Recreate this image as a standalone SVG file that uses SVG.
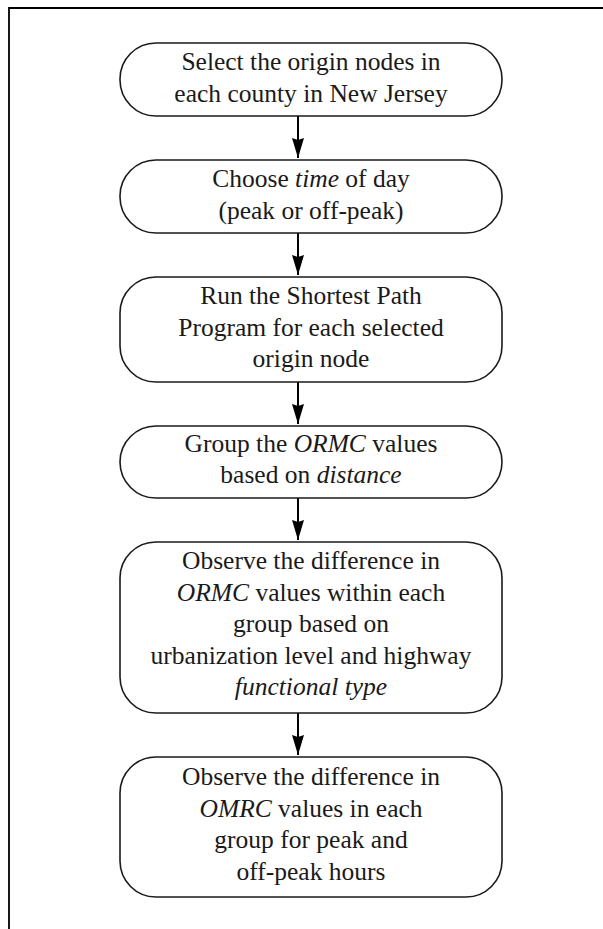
<svg xmlns="http://www.w3.org/2000/svg" width="603" height="929" viewBox="0 0 603 929">
<defs>
<style>
.node rect{fill:#fff;stroke:#1a1a1a;stroke-width:1.6}
.node text{font-family:"Liberation Serif","Times New Roman",serif;font-size:25.5px;fill:#1a1a1a;text-anchor:middle}
.it{font-style:italic}
.conn line{stroke:#000;stroke-width:2}
.frame{stroke:#000;stroke-width:1.8;fill:none}
</style>
<marker id="ah" markerWidth="20" markerHeight="12" refX="20" refY="6" orient="auto" markerUnits="userSpaceOnUse" viewBox="0 0 20 12">
<path d="M0,0 L20,6 L0,12 L2,6 Z" fill="#000"/>
</marker>
</defs>
<rect width="603" height="929" fill="#fff"/>
<path class="frame" d="M9,929 V8 H603"/>
<g class="conn">
<line x1="298" y1="116" x2="298" y2="158" marker-end="url(#ah)"/>
<line x1="298" y1="233" x2="298" y2="275" marker-end="url(#ah)"/>
<line x1="298" y1="382" x2="298" y2="424" marker-end="url(#ah)"/>
<line x1="298" y1="498" x2="298" y2="540" marker-end="url(#ah)"/>
<line x1="298" y1="713" x2="298" y2="755" marker-end="url(#ah)"/>
</g>
<g id="n1" class="node">
<rect x="120" y="43" width="382" height="73" rx="36" ry="36"/>
<text x="311" y="70">Select the origin nodes in</text>
<text x="311" y="102">each county in New Jersey</text>
</g>
<g id="n2" class="node">
<rect x="120" y="160" width="382" height="73" rx="36" ry="36"/>
<text x="311" y="187">Choose <tspan class="it">time</tspan> of day</text>
<text x="311" y="219">(peak or off-peak)</text>
</g>
<g id="n3" class="node">
<rect x="120" y="277" width="382" height="105" rx="36" ry="36"/>
<text x="311" y="304">Run the Shortest Path</text>
<text x="311" y="336">Program for each selected</text>
<text x="311" y="367">origin node</text>
</g>
<g id="n4" class="node">
<rect x="120" y="426" width="382" height="72" rx="36" ry="36"/>
<text x="311" y="452">Group the <tspan class="it">ORMC</tspan> values</text>
<text x="311" y="483">based on <tspan class="it">distance</tspan></text>
</g>
<g id="n5" class="node">
<rect x="120" y="542" width="382" height="171" rx="36" ry="36"/>
<text x="311" y="569">Observe the difference in</text>
<text x="311" y="601"><tspan class="it">ORMC</tspan> values within each</text>
<text x="311" y="632">group based on</text>
<text x="311" y="664">urbanization level and highway</text>
<text x="311" y="695" class="it">functional type</text>
</g>
<g id="n6" class="node">
<rect x="120" y="757" width="382" height="140" rx="36" ry="36"/>
<text x="311" y="785">Observe the difference in</text>
<text x="311" y="817"><tspan class="it">OMRC</tspan> values in each</text>
<text x="311" y="848">group for peak and</text>
<text x="311" y="880">off-peak hours</text>
</g>
</svg>
